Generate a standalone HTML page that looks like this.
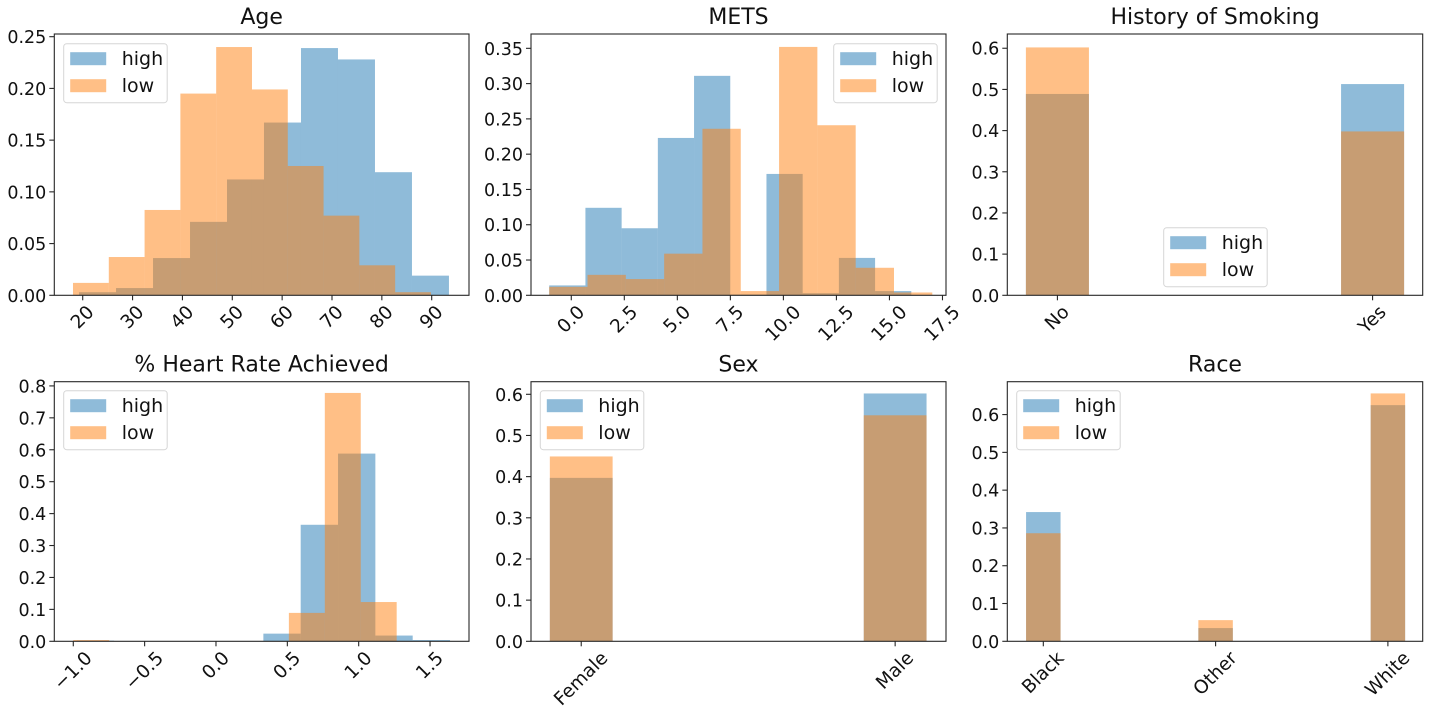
<!DOCTYPE html>
<html><head><meta charset="utf-8"><style>
html,body{margin:0;padding:0;background:#fff;}
svg{display:block;font-family:"DejaVu Sans","Liberation Sans",sans-serif;}
</style></head><body>
<svg id="fig" width="1432" height="712" viewBox="0 0 1432 712" xmlns="http://www.w3.org/2000/svg"></svg>
<script>
// ---- data ----
const ageHighStart = 19.26, ageHighWidth = 7.42;
const ageHigh = [0.003,0.007,0.036,0.071,0.112,0.167,0.239,0.228,0.119,0.019];
const ageLowStart = 18.05, ageLowWidth = 7.18;
const ageLow = [0.012,0.037,0.0825,0.195,0.240,0.199,0.125,0.077,0.029,0.003];
const ageXTicks = [20,30,40,50,60,70,80,90];
const ageYTicks = [0,0.05,0.10,0.15,0.20,0.25];
const ageYLabels = ["0.00","0.05","0.10","0.15","0.20","0.25"];

const metsHighStart = -1.04, metsHighWidth = 1.707;
const metsHigh = [0.014,0.124,0.095,0.223,0.311,0.001,0.172,0.003,0.053,0.006];
const metsLowStart = -1.04, metsLowWidth = 1.806;
const metsLow = [0.012,0.029,0.023,0.059,0.236,0.006,0.352,0.241,0.039,0.004];
const metsXTicks = [0,2.5,5,7.5,10,12.5,15,17.5];
const metsXLabels = ["0.0","2.5","5.0","7.5","10.0","12.5","15.0","17.5"];
const metsYTicks = [0,0.05,0.10,0.15,0.20,0.25,0.30,0.35];
const metsYLabels = ["0.00","0.05","0.10","0.15","0.20","0.25","0.30","0.35"];

const hrHighStart = -0.976, hrHighWidth = 0.2616;
const hrHigh = [0.002,0,0,0,0,0.024,0.365,0.588,0.018,0.004];
const hrLowStart = -1.0, hrLowWidth = 0.2518;
const hrLow = [0.004,0,0,0,0,0,0.089,0.778,0.123,0];
const hrXTicks = [-1,-0.5,0,0.5,1,1.5];
const hrXLabels = ["\u22121.0","\u22120.5","0.0","0.5","1.0","1.5"];
const hrYTicks = [0,0.1,0.2,0.3,0.4,0.5,0.6,0.7,0.8];

const catYTicks = [0,0.1,0.2,0.3,0.4,0.5,0.6];
const smokeCats = ["No","Yes"];
const smokeHigh = [0.489,0.513];
const smokeLow = [0.602,0.398];
const sexCats = ["Female","Male"];
const sexHigh = [0.397,0.602];
const sexLow = [0.449,0.549];
const raceCats = ["Black","Other","White"];
const raceHigh = [0.342,0.035,0.625];
const raceLow = [0.286,0.056,0.656];

// ---- drawing ----
const NS = "http://www.w3.org/2000/svg";
const fig = document.getElementById('fig');
const BLUE = "#1f77b4", ORANGE = "#ff7f0e";
let clipN = 0;
function el(tag, attrs, parent){const e=document.createElementNS(NS,tag);for(const k in attrs)e.setAttribute(k,attrs[k]);(parent||fig).appendChild(e);return e;}

function panel(cfg){
  const g = el('g',{});
  
  
  const L=cfg.box[0],R=cfg.box[1],T=cfg.box[2],B=cfg.box[3];
  const sx = v => L + (v-cfg.xd[0])/(cfg.xd[1]-cfg.xd[0])*(R-L);
  const sy = v => B - (v-0)/(cfg.ymax)*(B-T);
  const cid = 'clip'+(clipN++);
  const cp = el('clipPath',{id:cid},g);
  el('rect',{x:L,y:T,width:R-L,height:B-T},cp);
  const bars = el('g',{'clip-path':'url(#'+cid+')'},g);
  cfg.series.forEach((s,si)=>{
    s.values.forEach((v,i)=>{
      let x0,x1;
      if(s.cat){x0=sx(i-0.1);x1=sx(i+0.1);} else {x0=sx(s.start+i*s.width);x1=sx(s.start+(i+1)*s.width);}
      if(v<=0) return;
      const r = el('rect',{x:x0,y:sy(v),width:x1-x0,height:B-sy(v),fill:s.color,'fill-opacity':0.5},bars);
      
      
    });
  });
  const f = el('rect',{x:L,y:T,width:R-L,height:B-T,fill:'none',stroke:'#262626','stroke-width':1.1},g);
  
  
  cfg.yticks.forEach((v,i)=>{
    const y=sy(v);
    el('line',{x1:L-5,x2:L,y1:y,y2:y,stroke:'#262626','stroke-width':1.1},g);
    const t=el('text',{x:L-8,y:y+6.5,'text-anchor':'end','font-size':17.5,fill:'#111'},g);
    t.textContent = cfg.ylabels ? cfg.ylabels[i] : v.toFixed(1);
    
    
  });
  cfg.xticks.forEach((v,i)=>{
    const x=sx(v);
    el('line',{x1:x,x2:x,y1:B,y2:B+5,stroke:'#262626','stroke-width':1.1},g);
    const t=el('text',{x:0,y:0,'text-anchor':'middle','dominant-baseline':'central','font-size':18.5,fill:'#111'},g);
    t.textContent = cfg.xlabels[i];
    
    
    const w=t.getComputedTextLength(), h=14;
    const bh=(w+h)*0.7071;
    t.setAttribute('transform','translate('+x+','+(B+9+bh/2)+') rotate(-45)');
  });
  const tt=el('text',{x:(L+R)/2,y:T-10,'text-anchor':'middle','font-size':22,fill:'#111'},g);
  tt.textContent=cfg.title;
  
  
  const lg=el('g',{},g);
  
  
  const lx=cfg.legend[0], ly=cfg.legend[1];
  el('rect',{x:lx,y:ly,width:103.5,height:59,rx:3,fill:'#fff','fill-opacity':0.8,stroke:'#d6d6d6','stroke-width':1},lg);
  [["high",BLUE],["low",ORANGE]].forEach((e,i)=>{
    const yy=ly+8.5+i*27;
    const p=el('rect',{x:lx+6.5,y:yy,width:36,height:13,fill:e[1],'fill-opacity':0.5},lg);
    
    
    const t=el('text',{x:lx+58,y:yy+13,'font-size':19,fill:'#111'},lg);
    t.textContent=e[0];
    
    
  });
}

panel({name:'age-panel',title:'Age',box:[54.3,469,34,295.3],xd:[14.30,97.48],ymax:0.2526,
  series:[{label:'high',color:BLUE,start:ageHighStart,width:ageHighWidth,values:ageHigh},
          {label:'low',color:ORANGE,start:ageLowStart,width:ageLowWidth,values:ageLow}],
  xticks:ageXTicks,xlabels:ageXTicks.map(String),yticks:ageYTicks,ylabels:ageYLabels,legend:[63.7,43.7]});
panel({name:'mets-panel',title:'METS',box:[531,946,34,295.3],xd:[-1.899,17.666],ymax:0.3703,
  series:[{label:'high',color:BLUE,start:metsHighStart,width:metsHighWidth,values:metsHigh},
          {label:'low',color:ORANGE,start:metsLowStart,width:metsLowWidth,values:metsLow}],
  xticks:metsXTicks,xlabels:metsXLabels,yticks:metsYTicks,ylabels:metsYLabels,legend:[833.7,43.7]});
panel({name:'smoking-panel',title:'History of Smoking',box:[1007.3,1422.7,34,295.3],xd:[-0.159,1.159],ymax:0.6346,
  series:[{label:'high',color:BLUE,cat:true,values:smokeHigh},{label:'low',color:ORANGE,cat:true,values:smokeLow}],
  xticks:[0,1],xlabels:smokeCats,yticks:catYTicks,legend:[1163.7,227.7]});
panel({name:'heart-rate-panel',title:'% Heart Rate Achieved',box:[54.3,469,381.7,641.3],xd:[-1.133,1.773],ymax:0.8132,
  series:[{label:'high',color:BLUE,start:hrHighStart,width:hrHighWidth,values:hrHigh},
          {label:'low',color:ORANGE,start:hrLowStart,width:hrLowWidth,values:hrLow}],
  xticks:hrXTicks,xlabels:hrXLabels,yticks:hrYTicks,legend:[63.7,390.7]});
panel({name:'sex-panel',title:'Sex',box:[531,946,381.7,641.3],xd:[-0.160,1.162],ymax:0.6306,
  series:[{label:'high',color:BLUE,cat:true,values:sexHigh},{label:'low',color:ORANGE,cat:true,values:sexLow}],
  xticks:[0,1],xlabels:sexCats,yticks:catYTicks,legend:[540.3,390.7]});
panel({name:'race-panel',title:'Race',box:[1007.3,1422.7,381.7,641.3],xd:[-0.209,2.202],ymax:0.687,
  series:[{label:'high',color:BLUE,cat:true,values:raceHigh},{label:'low',color:ORANGE,cat:true,values:raceLow}],
  xticks:[0,1,2],xlabels:raceCats,yticks:catYTicks,legend:[1016.7,390.7]});
</script>
</body></html>
